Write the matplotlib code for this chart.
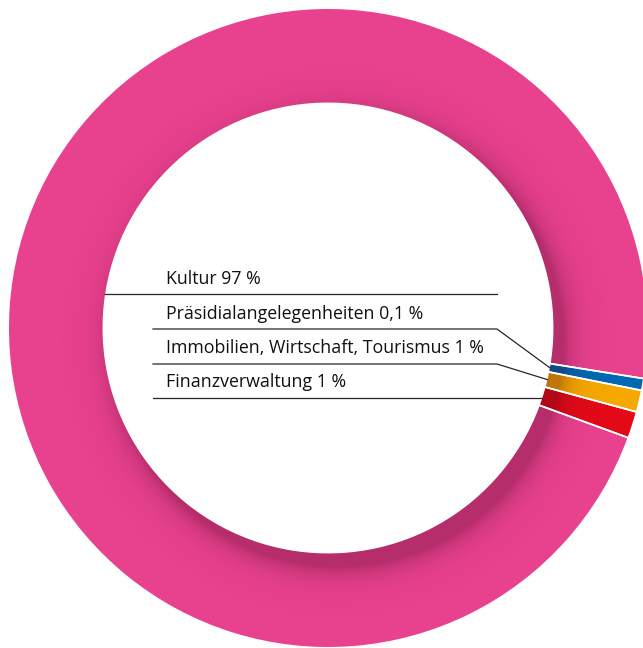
import numpy as np
import matplotlib
matplotlib.use("Agg")
import matplotlib.pyplot as plt
from matplotlib.patches import Wedge

# ---- data ----
categories = ["Kultur", "Präsidialangelegenheiten",
              "Immobilien, Wirtschaft, Tourismus", "Finanzverwaltung"]
shares = [96.95, 0.6, 1.1, 1.35]          # slice sizes as drawn
pct_labels = ["97 %", "0,1 %", "1 %", "1 %"]
colors = ["#E8418E", "#0069B3", "#F6A800", "#E30A17"]

W, H = 643, 648
fig = plt.figure(figsize=(W / 100, H / 100), dpi=100)
ax = fig.add_axes([0, 0, 1, 1])

cx, cy_img = 328, 328
cy = H - cy_img
R, r_in = 319, 225.5
ring_w = R - r_in

# draw order: small slices first (clockwise from just below 3 o'clock), then Kultur
order = [1, 2, 3, 0]
vals = [shares[i] for i in order]
cols = [colors[i] for i in order]
wedges, _ = ax.pie(vals, colors=cols, startangle=-9.1, counterclock=False,
                   radius=R, center=(cx, cy),
                   wedgeprops=dict(width=ring_w, linewidth=0))

ax.set_xlim(0, W)
ax.set_ylim(0, H)
ax.set_aspect("equal")
ax.axis("off")

# ---- inner shadow ----
yy, xx = np.mgrid[0:H, 0:W] + 0.5
ox, oy = 10, 13
d = np.hypot(xx - (cx + ox), yy - (cy_img + oy))
s = d - r_in
amax, L = 0.30, 12.0
alpha = amax * np.exp(-np.clip(s, 0, None) / L)
rgba = np.zeros((H, W, 4))
rgba[..., 0] = 0.25
rgba[..., 1] = 0.0
rgba[..., 2] = 0.1
rgba[..., 3] = alpha
im = ax.imshow(rgba, extent=(0, W, 0, H), origin="upper", zorder=2,
               interpolation="bilinear")
ring = Wedge((cx, cy), R, 0, 360, width=ring_w, transform=ax.transData)
im.set_clip_path(ring)
ax.set_xlim(0, W)
ax.set_ylim(0, H)

# ---- white separators ----
for w in wedges:
    for th in (w.theta1, w.theta2):
        t = np.deg2rad(th)
        ax.plot([cx + (r_in - 1) * np.cos(t), cx + (R + 2) * np.cos(t)],
                [cy + (r_in - 1) * np.sin(t), cy + (R + 2) * np.sin(t)],
                color="white", lw=1.2, zorder=3, solid_capstyle="butt")

# ---- labels and leader lines ----
line_col = "#262626"
text_x = 166
baselines_img = [284, 319, 353, 387]
lines_img = [294, 329, 364, 398]
knee_x = 497
fs = 12.8
for k, (cat, pl) in enumerate(zip(categories, pct_labels)):
    ax.text(text_x, H - baselines_img[k], f"{cat} {pl}", fontsize=fs,
            family=["Open Sans", "DejaVu Sans"], color="#111111",
            va="baseline", ha="left", zorder=4)

# Kultur line: from inner edge to knee
yl = lines_img[0]
xl = cx - np.sqrt(r_in**2 - (yl - cy_img) ** 2)
ax.plot([xl, knee_x], [H - yl, H - yl], color=line_col, lw=0.9, zorder=4)

# small slices: horizontal then diagonal to slice mid-angle on inner edge
for k in (1, 2):
    w = wedges[order.index(k)]
    mid = np.deg2rad((w.theta1 + w.theta2) / 2)
    ex, ey = cx + r_in * np.cos(mid), cy + r_in * np.sin(mid)
    yl = lines_img[k]
    ax.plot([153, knee_x, ex], [H - yl, H - yl, ey], color=line_col, lw=0.9,
            zorder=4)

# Finanzverwaltung: straight line to inner edge
yl = lines_img[3]
xe = cx + np.sqrt(r_in**2 - (yl - cy_img) ** 2)
ax.plot([153, xe], [H - yl, H - yl], color=line_col, lw=0.9, zorder=4)

fig.savefig("out.png", dpi=100)
